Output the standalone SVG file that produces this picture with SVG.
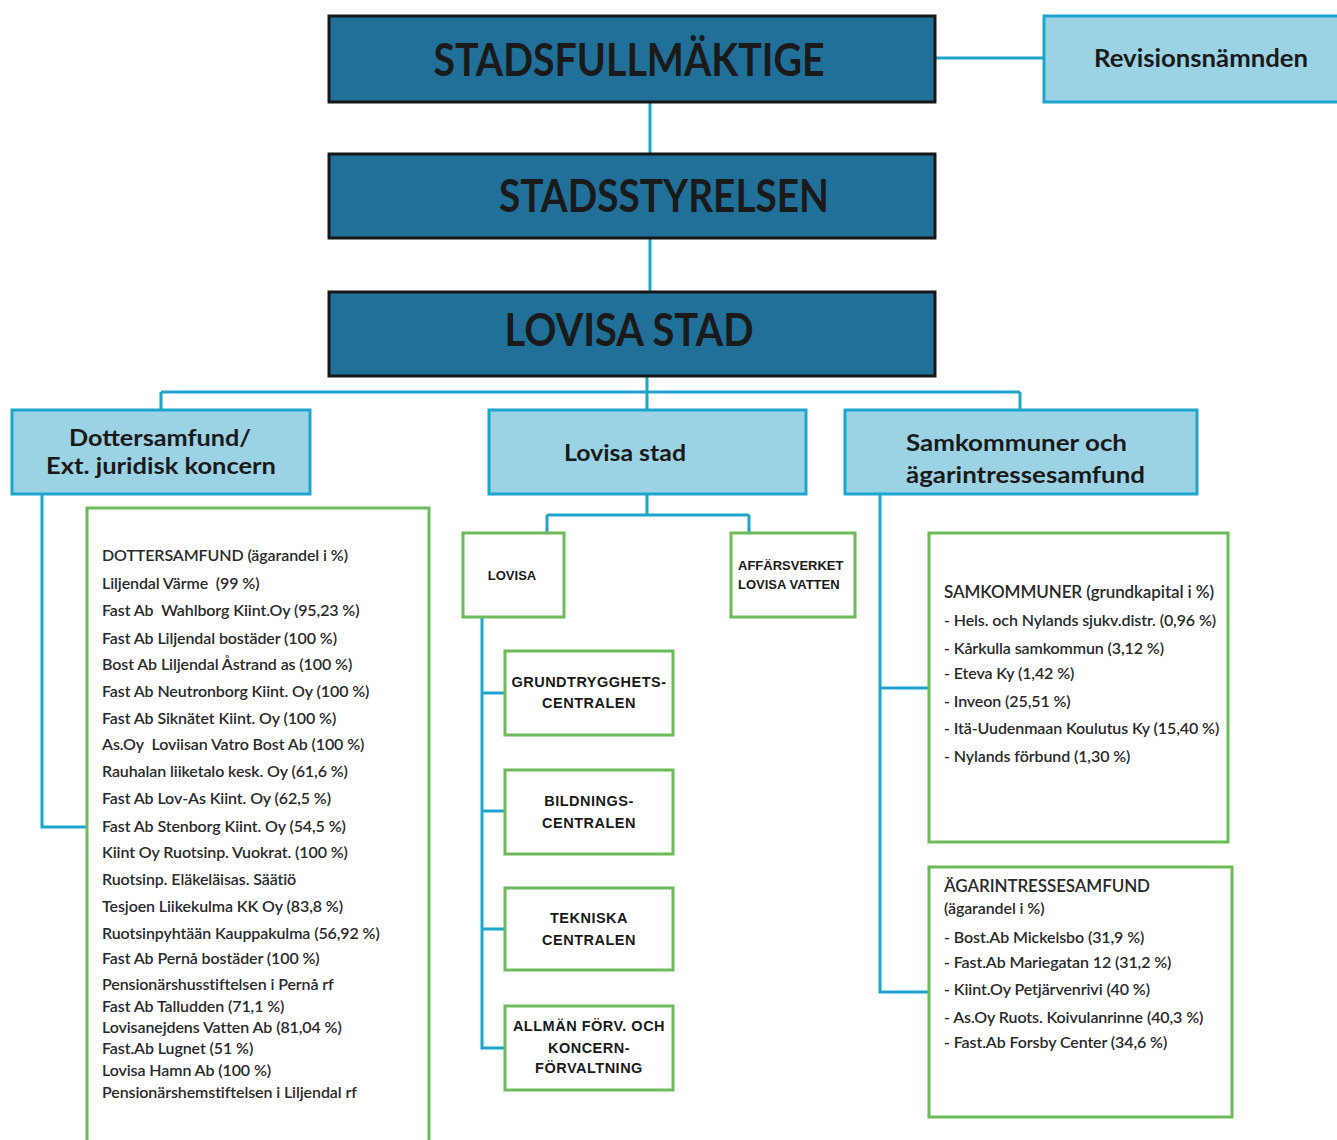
<svg xmlns="http://www.w3.org/2000/svg" width="1337" height="1140" viewBox="0 0 1337 1140">
<style>
.dark{fill:#21709a;stroke:#161616;stroke-width:3}
.light{fill:#9cd3e4;stroke:#1da5cc;stroke-width:3}
.green{fill:#fff;stroke:#6cbb5a;stroke-width:3}
.conn{fill:none;stroke:#1da5cc;stroke-width:3}
text{font-family:Lato,"Liberation Sans",sans-serif;fill:#1a1a1a}
.big{font-size:45px;font-weight:bold;text-anchor:middle}
.mid{font-size:23px;font-weight:bold}
.unit{font-size:13px;font-weight:bold;font-family:"Liberation Sans",sans-serif}
.c{text-anchor:middle;font-size:14.5px;letter-spacing:0.5px}
.list{font-size:16px;font-weight:600;fill:#2a2a2a;letter-spacing:-0.1px}
</style>
<rect width="1337" height="1140" fill="#fff"/>
<g id="connectors">
<path class="conn" d="M935 58H1044M650 102V154M650 238V292M647 376V392M161 392H1020M161 392V410M647 392V410M1020 392V410"/>
<path class="conn" d="M42 494V827H87"/>
<path class="conn" d="M647 494V515M547 515H749M547 515V533M749 515V533"/>
<path class="conn" d="M482 617V1048H505M482 693H505M482 811H505M482 929H505"/>
<path class="conn" d="M880 494V992H929M880 688H929"/>
</g>
<g id="stadsfullmaktige"><rect class="dark" x="329" y="16" width="606" height="86"/><text class="big" x="629" y="76" textLength="391" lengthAdjust="spacingAndGlyphs">STADSFULLMÄKTIGE</text></g>
<g id="revisionsnamnden"><rect class="light" x="1044" y="16" width="300" height="86"/><text x="1201" y="67" font-size="25" font-weight="bold" text-anchor="middle" textLength="214" lengthAdjust="spacingAndGlyphs">Revisionsnämnden</text></g>
<g id="stadsstyrelsen"><rect class="dark" x="329" y="154" width="606" height="84"/><text class="big" x="664" y="212" textLength="330" lengthAdjust="spacingAndGlyphs">STADSSTYRELSEN</text></g>
<g id="lovisa-stad-top"><rect class="dark" x="329" y="292" width="606" height="84"/><text class="big" x="629" y="346" textLength="249" lengthAdjust="spacingAndGlyphs">LOVISA STAD</text></g>
<g id="dottersamfund"><rect class="light" x="12" y="410" width="298" height="84"/><text class="mid" x="160" y="446" text-anchor="middle" textLength="182" lengthAdjust="spacingAndGlyphs">Dottersamfund/</text><text class="mid" x="161" y="474" text-anchor="middle" textLength="230" lengthAdjust="spacingAndGlyphs">Ext. juridisk koncern</text></g>
<g id="lovisa-stad"><rect class="light" x="489" y="410" width="317" height="84"/><text class="mid" x="564" y="461" textLength="122" lengthAdjust="spacingAndGlyphs">Lovisa stad</text></g>
<g id="samkommuner-och"><rect class="light" x="845" y="410" width="352" height="84"/><text class="mid" x="906" y="451" textLength="221" lengthAdjust="spacingAndGlyphs">Samkommuner och</text><text class="mid" x="906" y="483" textLength="239" lengthAdjust="spacingAndGlyphs">ägarintressesamfund</text></g>
<g id="dottersamfund-list"><rect class="green" x="87" y="508" width="342" height="640"/>
<text class="list" x="102">
<tspan x="102" y="561">DOTTERSAMFUND (ägarandel i %)</tspan>
<tspan x="102" y="589" xml:space="preserve">Liljendal Värme  (99 %)</tspan>
<tspan x="102" y="616" xml:space="preserve">Fast Ab  Wahlborg Kiint.Oy (95,23 %)</tspan>
<tspan x="102" y="644">Fast Ab Liljendal bostäder (100 %)</tspan>
<tspan x="102" y="670">Bost Ab Liljendal Åstrand as (100 %)</tspan>
<tspan x="102" y="697">Fast Ab Neutronborg Kiint. Oy (100 %)</tspan>
<tspan x="102" y="724">Fast Ab Siknätet Kiint. Oy (100 %)</tspan>
<tspan x="102" y="750" xml:space="preserve">As.Oy  Loviisan Vatro Bost Ab (100 %)</tspan>
<tspan x="102" y="777">Rauhalan liiketalo kesk. Oy (61,6 %)</tspan>
<tspan x="102" y="804">Fast Ab Lov-As Kiint. Oy (62,5 %)</tspan>
<tspan x="102" y="832">Fast Ab Stenborg Kiint. Oy (54,5 %)</tspan>
<tspan x="102" y="858">Kiint Oy Ruotsinp. Vuokrat. (100 %)</tspan>
<tspan x="102" y="885">Ruotsinp. Eläkeläisas. Säätiö</tspan>
<tspan x="102" y="912">Tesjoen Liikekulma KK Oy (83,8 %)</tspan>
<tspan x="102" y="939">Ruotsinpyhtään Kauppakulma (56,92 %)</tspan>
<tspan x="102" y="964">Fast Ab Pernå bostäder (100 %)</tspan>
<tspan x="102" y="990">Pensionärshusstiftelsen i Pernå rf</tspan>
<tspan x="102" y="1012">Fast Ab Talludden (71,1 %)</tspan>
<tspan x="102" y="1033">Lovisanejdens Vatten Ab (81,04 %)</tspan>
<tspan x="102" y="1054">Fast.Ab Lugnet (51 %)</tspan>
<tspan x="102" y="1076">Lovisa Hamn Ab (100 %)</tspan>
<tspan x="102" y="1098">Pensionärshemstiftelsen i Liljendal rf</tspan>
</text></g>
<g id="lovisa"><rect class="green" x="463" y="533" width="101" height="84"/><text class="unit" x="512" y="580" text-anchor="middle">LOVISA</text></g>
<g id="affarsverket"><rect class="green" x="731" y="533" width="124" height="84"/><text class="unit" x="738" y="570">AFFÄRSVERKET</text><text class="unit" x="738" y="589">LOVISA VATTEN</text></g>
<g id="grundtrygghets"><rect class="green" x="505" y="651" width="168" height="84"/><text class="unit c" x="589" y="687">GRUNDTRYGGHETS-</text><text class="unit c" x="589" y="708">CENTRALEN</text></g>
<g id="bildnings"><rect class="green" x="505" y="770" width="168" height="84"/><text class="unit c" x="589" y="806">BILDNINGS-</text><text class="unit c" x="589" y="828">CENTRALEN</text></g>
<g id="tekniska"><rect class="green" x="505" y="888" width="168" height="82"/><text class="unit c" x="589" y="923">TEKNISKA</text><text class="unit c" x="589" y="945">CENTRALEN</text></g>
<g id="allman"><rect class="green" x="505" y="1006" width="168" height="84"/><text class="unit c" x="589" y="1031">ALLMÄN FÖRV. OCH</text><text class="unit c" x="589" y="1053">KONCERN-</text><text class="unit c" x="589" y="1073">FÖRVALTNING</text></g>
<g id="samkommuner"><rect class="green" x="929" y="533" width="299" height="309"/>
<text class="list" x="944">
<tspan x="944" y="598" font-size="17">SAMKOMMUNER (grundkapital i %)</tspan>
<tspan x="944" y="626">- Hels. och Nylands sjukv.distr. (0,96 %)</tspan>
<tspan x="944" y="654">- Kårkulla samkommun (3,12 %)</tspan>
<tspan x="944" y="679">- Eteva Ky (1,42 %)</tspan>
<tspan x="944" y="707">- Inveon (25,51 %)</tspan>
<tspan x="944" y="734">- Itä-Uudenmaan Koulutus Ky (15,40 %)</tspan>
<tspan x="944" y="762">- Nylands förbund (1,30 %)</tspan>
</text></g>
<g id="agarintressesamfund"><rect class="green" x="929" y="867" width="303" height="250"/>
<text class="list" x="944">
<tspan x="944" y="892" font-size="17">ÄGARINTRESSESAMFUND</tspan>
<tspan x="944" y="914">(ägarandel i %)</tspan>
<tspan x="944" y="943">- Bost.Ab Mickelsbo (31,9 %)</tspan>
<tspan x="944" y="968">- Fast.Ab Mariegatan 12 (31,2 %)</tspan>
<tspan x="944" y="995">- Kiint.Oy Petjärvenrivi (40 %)</tspan>
<tspan x="944" y="1023">- As.Oy Ruots. Koivulanrinne (40,3 %)</tspan>
<tspan x="944" y="1048">- Fast.Ab Forsby Center (34,6 %)</tspan>
</text></g>
</svg>
